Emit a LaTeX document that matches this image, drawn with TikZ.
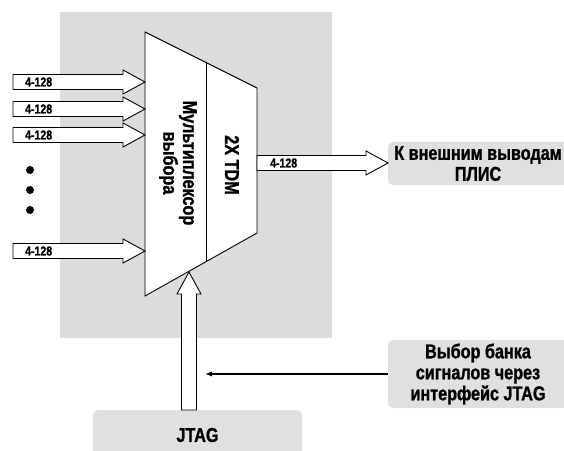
\documentclass[tikz,border=0pt]{standalone}
\usepackage{fontspec}
\setmainfont[FakeStretch=0.81, BoldFeatures={FakeBold=1.2}]{Liberation Sans}
\usetikzlibrary{arrows.meta,positioning,calc}
\definecolor{panelgray}{HTML}{DCDCDC}
\definecolor{boxgray}{HTML}{E0E0E0}
\tikzset{
  panel/.style={fill=panelgray, draw=none},
  labelbox/.style={
    fill=boxgray,
    rounded corners=5pt,
    align=center,
    inner sep=3pt,
    font=\fontsize{20}{21}\selectfont\bfseries
  },
  blockline/.style={draw=black, line width=0.9pt, fill=white},
  blocktext/.style={font=\fontsize{20}{16}\selectfont\bfseries, align=center, rotate=-90},
  buslabel/.style={font=\fontsize{13}{13}\selectfont\bfseries, inner sep=0pt, anchor=west},
  ctrlarrow/.style={-{Latex[length=2.4mm,width=1.8mm]}, line width=1.1pt},
  pics/busarrow/.style={code={
    \draw[blockline] (0,-7.5) -- (#1-22,-7.5) -- (#1-22,-12) -- (#1,0)
      -- (#1-22,12) -- (#1-22,7.5) -- (0,7.5) -- cycle;
  }}
}

\begin{document}
\begin{tikzpicture}[x=1pt, y=-1pt]
\useasboundingbox (0,0) rectangle (564,450);
% device area
\fill[panel] (60,12) rectangle (332,338);

% multiplexer / TDM block
\coordinate (muxNW) at (145,32);
\coordinate (muxNE) at (257,88);
\coordinate (muxSE) at (257,233);
\coordinate (muxSW) at (145,296);
\draw[blockline] (muxNW) -- (muxNE) -- (muxSE) -- (muxSW) -- cycle;
\draw[blockline] ($(muxNW)!0.545!(muxNE)$) -- ($(muxSW)!0.545!(muxSE)$);
\node[blocktext] (mux) at (178,163) {Мультиплексор\\выбора};
\node[blocktext] (tdm) at (232,165) {2X TDM};

% input buses
\foreach \y [count=\i] in {82,109,135,251} {
  \coordinate (in\i) at (13,\y);
  \pic at (in\i) {busarrow=132};
  \node[buslabel] (inlab\i) at ($(in\i)+(12,0)$) {4-128};
}
\foreach \y in {170,190,210}
  \fill (30,\y) circle (4pt);

% output bus
\node[labelbox, minimum width=180, minimum height=43] (extpins) at (478,163.5) {К внешним выводам\\ПЛИС};
\coordinate (out) at (257,163);
\pic at (out) {busarrow=131};
\node[buslabel] (outlab) at ($(out)+(13,0)$) {4-128};

% JTAG control
\node[labelbox, minimum width=209, minimum height=50] (jtag) at (197.5,435) {JTAG};
\coordinate (jtagin) at (189,410);
\pic[rotate=90] at (jtagin) {busarrow=138};
\node[labelbox, minimum width=180, minimum height=68] (banksel) at (478,374) {Выбор банка\\сигналов через\\интерфейс JTAG};
\coordinate (selpt) at (205,373);
\draw[ctrlarrow] (banksel.west) -- (selpt |- banksel.west);
\end{tikzpicture}
\end{document}
